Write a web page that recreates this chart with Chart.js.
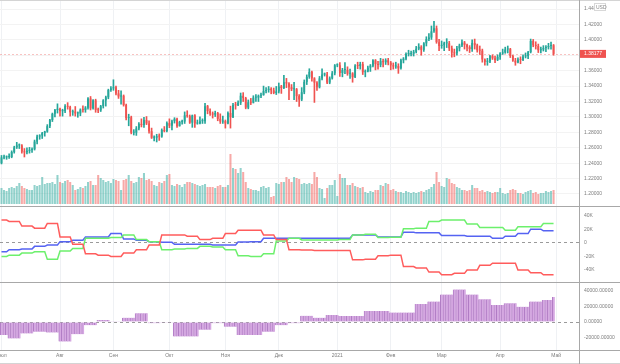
<!DOCTYPE html>
<html>
<head>
<meta charset="utf-8">
<script src="https://cdn.jsdelivr.net/npm/chart.js@4.4.1/dist/chart.umd.min.js"></script>
<style>
    body { margin: 0; background: #fff; }
    #wrap { position: relative; width: 620px; height: 364px; overflow: hidden; }
    canvas { position: absolute; left: 0; }
    .hl { position: absolute; left: 0; width: 620px; height: 1px; background: #a8a8a8; }
    .vl { position: absolute; top: 0; left: 579px; width: 1px; height: 364px; background: #a8a8a8; }
</style>
</head>
<body>
<div id="wrap">
    <canvas id="priceChart" width="620" height="206" style="top:0"></canvas>
    <canvas id="cotChart" width="620" height="75" style="top:207px"></canvas>
    <canvas id="histChart" width="620" height="81" style="top:283px"></canvas>
    <div class="hl" style="top:0;background:#d4d4d4"></div>
    <div class="hl" style="top:206px"></div>
    <div class="hl" style="top:282px"></div>
    <div class="hl" style="top:350px"></div>
    <div class="hl" style="top:363px;background:#d4d4d4"></div>
    <div class="vl"></div>
</div>
<script>
// GBP/USD daily, 1 Jul 2020 .. 30 Apr 2021 (one entry per trading day)
const opens = [
    1.2400, 1.2475, 1.2475, 1.2480, 1.2480, 1.2545, 1.2605, 1.2630, 1.2630, 1.2550,
    1.2540, 1.2560, 1.2570, 1.2580, 1.2680, 1.2745, 1.2760, 1.2790, 1.2810, 1.2880,
    1.2960, 1.3040, 1.3090, 1.3105, 1.3075, 1.3075, 1.3140, 1.3130, 1.3060, 1.3070,
    1.3045, 1.3045, 1.3095, 1.3090, 1.3120, 1.3240, 1.3110, 1.3215, 1.3090, 1.3085,
    1.3140, 1.3215, 1.3255, 1.3350, 1.3370, 1.3385, 1.3305, 1.3265, 1.3275, 1.3155,
    1.2985, 1.2995, 1.2795, 1.2795, 1.2850, 1.2910, 1.2895, 1.2960, 1.2915, 1.2815,
    1.2730, 1.2730, 1.2750, 1.2745, 1.2830, 1.2815, 1.2920, 1.2885, 1.2945, 1.2975,
    1.2880, 1.2935, 1.2940, 1.3020, 1.3010, 1.2925, 1.3020, 1.2915, 1.2915, 1.2945,
    1.2945, 1.3140, 1.3075, 1.3045, 1.3030, 1.3050, 1.2975, 1.2940, 1.2945, 1.2915,
    1.3050, 1.2995, 1.3155, 1.3150, 1.3185, 1.3275, 1.3245, 1.3120, 1.3190, 1.3185,
    1.3250, 1.3250, 1.3275, 1.3285, 1.3335, 1.3350, 1.3365, 1.3345, 1.3310, 1.3330,
    1.3395, 1.3375, 1.3450, 1.3435, 1.3385, 1.3360, 1.3360, 1.3270, 1.3225, 1.3320,
    1.3455, 1.3520, 1.3585, 1.3500, 1.3445, 1.3385, 1.3500, 1.3550, 1.3550, 1.3445,
    1.3500, 1.3565, 1.3670, 1.3670, 1.3570, 1.3610, 1.3610, 1.3560, 1.3565, 1.3515,
    1.3665, 1.3660, 1.3685, 1.3580, 1.3590, 1.3640, 1.3665, 1.3735, 1.3685, 1.3675,
    1.3725, 1.3710, 1.3735, 1.3705, 1.3670, 1.3655, 1.3660, 1.3630, 1.3735, 1.3755,
    1.3815, 1.3815, 1.3820, 1.3845, 1.3885, 1.3910, 1.3870, 1.3955, 1.4010, 1.4030,
    1.4110, 1.4150, 1.3970, 1.3920, 1.3935, 1.3955, 1.3955, 1.3890, 1.3835, 1.3825,
    1.3890, 1.3925, 1.3965, 1.3935, 1.3905, 1.3880, 1.3960, 1.3930, 1.3865, 1.3860,
    1.3745, 1.3715, 1.3720, 1.3790, 1.3760, 1.3740, 1.3780, 1.3825, 1.3835, 1.3875,
    1.3880, 1.3790, 1.3730, 1.3705, 1.3745, 1.3740, 1.3785, 1.3790, 1.3840, 1.3985,
    1.3930, 1.3920, 1.3865, 1.3875, 1.3895, 1.3905, 1.3920, 1.3930
];
const highs = [
    1.2500, 1.2505, 1.2495, 1.2520, 1.2560, 1.2620, 1.2670, 1.2650, 1.2640, 1.2590,
    1.2600, 1.2605, 1.2600, 1.2700, 1.2765, 1.2770, 1.2800, 1.2815, 1.2900, 1.2970,
    1.3050, 1.3100, 1.3170, 1.3115, 1.3100, 1.3160, 1.3185, 1.3140, 1.3090, 1.3135,
    1.3065, 1.3105, 1.3145, 1.3135, 1.3250, 1.3265, 1.3225, 1.3230, 1.3115, 1.3150,
    1.3225, 1.3270, 1.3360, 1.3395, 1.3482, 1.3400, 1.3345, 1.3340, 1.3285, 1.3165,
    1.3035, 1.3010, 1.2835, 1.2875, 1.2925, 1.2975, 1.2995, 1.3005, 1.2950, 1.2855,
    1.2755, 1.2775, 1.2780, 1.2845, 1.2875, 1.2935, 1.2975, 1.2960, 1.2990, 1.2985,
    1.2945, 1.2960, 1.3065, 1.3080, 1.3025, 1.3025, 1.3030, 1.2960, 1.3000, 1.2975,
    1.3175, 1.3150, 1.3105, 1.3065, 1.3075, 1.3060, 1.3040, 1.3010, 1.2960, 1.3065,
    1.3140, 1.3175, 1.3190, 1.3210, 1.3310, 1.3315, 1.3255, 1.3220, 1.3240, 1.3275,
    1.3290, 1.3285, 1.3310, 1.3400, 1.3380, 1.3395, 1.3380, 1.3375, 1.3395, 1.3440,
    1.3410, 1.3540, 1.3500, 1.3445, 1.3420, 1.3450, 1.3370, 1.3290, 1.3380, 1.3480,
    1.3545, 1.3625, 1.3595, 1.3510, 1.3460, 1.3525, 1.3625, 1.3570, 1.3580, 1.3520,
    1.3590, 1.3680, 1.3690, 1.3705, 1.3630, 1.3705, 1.3650, 1.3620, 1.3575, 1.3680,
    1.3710, 1.3710, 1.3710, 1.3610, 1.3660, 1.3680, 1.3745, 1.3745, 1.3720, 1.3760,
    1.3750, 1.3755, 1.3760, 1.3720, 1.3700, 1.3710, 1.3690, 1.3750, 1.3770, 1.3830,
    1.3865, 1.3855, 1.3865, 1.3915, 1.3950, 1.3925, 1.3965, 1.4040, 1.4080, 1.4180,
    1.4241, 1.4180, 1.4005, 1.3985, 1.3970, 1.4015, 1.3980, 1.3920, 1.3880, 1.3915,
    1.3945, 1.4000, 1.3980, 1.3945, 1.3925, 1.4000, 1.4010, 1.3945, 1.3920, 1.3880,
    1.3755, 1.3760, 1.3800, 1.3805, 1.3790, 1.3805, 1.3835, 1.3880, 1.3905, 1.3920,
    1.3890, 1.3800, 1.3760, 1.3765, 1.3780, 1.3805, 1.3830, 1.3850, 1.4010, 1.4005,
    1.3975, 1.3945, 1.3905, 1.3925, 1.3925, 1.3955, 1.3970, 1.3940
];
const lows = [
    1.2390, 1.2455, 1.2450, 1.2460, 1.2470, 1.2530, 1.2590, 1.2590, 1.2530, 1.2480,
    1.2520, 1.2530, 1.2540, 1.2570, 1.2650, 1.2710, 1.2720, 1.2750, 1.2800, 1.2860,
    1.2940, 1.3000, 1.3050, 1.3010, 1.3010, 1.3055, 1.3100, 1.3010, 1.3020, 1.3010,
    1.2995, 1.3015, 1.3060, 1.3060, 1.3100, 1.3090, 1.3100, 1.3060, 1.3055, 1.3070,
    1.3115, 1.3140, 1.3235, 1.3330, 1.3345, 1.3285, 1.3240, 1.3165, 1.3140, 1.2960,
    1.2885, 1.2780, 1.2765, 1.2760, 1.2830, 1.2870, 1.2865, 1.2900, 1.2790, 1.2720,
    1.2690, 1.2675, 1.2695, 1.2735, 1.2805, 1.2805, 1.2860, 1.2830, 1.2920, 1.2865,
    1.2880, 1.2905, 1.2915, 1.2995, 1.2915, 1.2865, 1.2865, 1.2905, 1.2910, 1.2915,
    1.2915, 1.3040, 1.3020, 1.2985, 1.3005, 1.2950, 1.2915, 1.2915, 1.2855, 1.2910,
    1.2855, 1.2990, 1.3100, 1.3145, 1.3160, 1.3200, 1.3105, 1.3105, 1.3160, 1.3180,
    1.3200, 1.3200, 1.3250, 1.3280, 1.3310, 1.3320, 1.3300, 1.3300, 1.3290, 1.3310,
    1.3305, 1.3365, 1.3380, 1.3225, 1.3340, 1.3225, 1.3200, 1.3135, 1.3210, 1.3300,
    1.3420, 1.3500, 1.3465, 1.3188, 1.3345, 1.3375, 1.3480, 1.3530, 1.3430, 1.3430,
    1.3490, 1.3545, 1.3650, 1.3525, 1.3520, 1.3560, 1.3540, 1.3500, 1.3450, 1.3510,
    1.3625, 1.3620, 1.3550, 1.3520, 1.3585, 1.3590, 1.3650, 1.3610, 1.3620, 1.3650,
    1.3650, 1.3680, 1.3675, 1.3610, 1.3620, 1.3630, 1.3565, 1.3620, 1.3700, 1.3740,
    1.3790, 1.3790, 1.3790, 1.3830, 1.3870, 1.3800, 1.3850, 1.3920, 1.3990, 1.4005,
    1.4095, 1.3955, 1.3860, 1.3890, 1.3860, 1.3900, 1.3860, 1.3775, 1.3780, 1.3800,
    1.3855, 1.3910, 1.3880, 1.3855, 1.3835, 1.3850, 1.3880, 1.3840, 1.3810, 1.3710,
    1.3670, 1.3670, 1.3705, 1.3745, 1.3705, 1.3730, 1.3745, 1.3810, 1.3825, 1.3830,
    1.3770, 1.3720, 1.3670, 1.3700, 1.3690, 1.3730, 1.3765, 1.3755, 1.3830, 1.3910,
    1.3880, 1.3835, 1.3830, 1.3855, 1.3845, 1.3880, 1.3880, 1.3800
];
const closes = [
    1.2475, 1.2475, 1.2480, 1.2480, 1.2545, 1.2605, 1.2630, 1.2630, 1.2550, 1.2540,
    1.2560, 1.2570, 1.2580, 1.2680, 1.2745, 1.2760, 1.2790, 1.2810, 1.2880, 1.2960,
    1.3040, 1.3090, 1.3105, 1.3075, 1.3075, 1.3140, 1.3130, 1.3060, 1.3070, 1.3045,
    1.3045, 1.3095, 1.3090, 1.3120, 1.3240, 1.3110, 1.3215, 1.3090, 1.3085, 1.3140,
    1.3215, 1.3255, 1.3350, 1.3370, 1.3385, 1.3305, 1.3265, 1.3275, 1.3155, 1.2985,
    1.2995, 1.2795, 1.2795, 1.2850, 1.2910, 1.2895, 1.2960, 1.2915, 1.2815, 1.2730,
    1.2730, 1.2750, 1.2745, 1.2830, 1.2815, 1.2920, 1.2885, 1.2945, 1.2975, 1.2880,
    1.2935, 1.2940, 1.3020, 1.3010, 1.2925, 1.3020, 1.2915, 1.2915, 1.2945, 1.2945,
    1.3140, 1.3075, 1.3045, 1.3030, 1.3050, 1.2975, 1.2940, 1.2945, 1.2915, 1.3050,
    1.2995, 1.3155, 1.3150, 1.3185, 1.3275, 1.3245, 1.3120, 1.3190, 1.3185, 1.3250,
    1.3250, 1.3275, 1.3285, 1.3335, 1.3350, 1.3365, 1.3345, 1.3310, 1.3330, 1.3395,
    1.3375, 1.3450, 1.3435, 1.3385, 1.3360, 1.3360, 1.3270, 1.3225, 1.3320, 1.3455,
    1.3520, 1.3585, 1.3500, 1.3445, 1.3385, 1.3500, 1.3550, 1.3550, 1.3445, 1.3500,
    1.3565, 1.3670, 1.3670, 1.3570, 1.3610, 1.3610, 1.3560, 1.3565, 1.3515, 1.3665,
    1.3660, 1.3685, 1.3580, 1.3590, 1.3640, 1.3665, 1.3735, 1.3685, 1.3675, 1.3725,
    1.3710, 1.3735, 1.3705, 1.3670, 1.3655, 1.3660, 1.3630, 1.3735, 1.3755, 1.3815,
    1.3815, 1.3820, 1.3845, 1.3885, 1.3910, 1.3870, 1.3955, 1.4010, 1.4030, 1.4110,
    1.4150, 1.3970, 1.3920, 1.3935, 1.3955, 1.3955, 1.3890, 1.3835, 1.3825, 1.3890,
    1.3925, 1.3965, 1.3935, 1.3905, 1.3880, 1.3960, 1.3930, 1.3865, 1.3860, 1.3745,
    1.3715, 1.3720, 1.3790, 1.3760, 1.3740, 1.3780, 1.3825, 1.3835, 1.3875, 1.3880,
    1.3790, 1.3730, 1.3705, 1.3745, 1.3740, 1.3785, 1.3790, 1.3840, 1.3985, 1.3930,
    1.3920, 1.3865, 1.3875, 1.3895, 1.3905, 1.3920, 1.3930, 1.38177
];
const volumes = [
    80, 70, 65, 80, 85, 80, 90, 105, 90, 80,
    75, 70, 70, 95, 90, 95, 135, 100, 105, 105,
    110, 100, 145, 110, 105, 115, 120, 110, 95, 70,
    75, 85, 80, 90, 110, 115, 95, 95, 145, 130,
    120, 110, 115, 105, 125, 120, 115, 70, 120, 125,
    145, 115, 105, 110, 135, 130, 155, 120, 125, 115,
    95, 90, 110, 105, 115, 145, 150, 95, 90, 100,
    95, 85, 100, 110, 110, 105, 100, 95, 90, 95,
    100, 85, 85, 85, 80, 90, 95, 85, 85, 95,
    250, 180, 175, 155, 180, 160, 110, 80, 75, 70,
    70, 65, 85, 90, 80, 85, 35, 40, 105, 100,
    110, 110, 135, 125, 110, 135, 130, 125, 100, 105,
    100, 105, 100, 160, 135, 80, 75, 30, 80, 95,
    95, 120, 40, 150, 130, 130, 95, 95, 105, 90,
    85, 80, 85, 60, 55, 65, 60, 70, 70, 95,
    90, 105, 100, 70, 75, 65, 60, 60, 55, 65,
    60, 55, 60, 55, 60, 65, 60, 70, 75, 85,
    100, 160, 110, 90, 85, 130, 125, 105, 100, 85,
    80, 70, 70, 65, 70, 95, 80, 80, 65, 70,
    60, 65, 60, 55, 60, 60, 80, 55, 50, 55,
    70, 75, 70, 55, 55, 50, 60, 65, 70, 55,
    60, 50, 55, 55, 65, 60, 65, 70
];

// COT report periods (first trading-day index of each period) and values
const cotStarts = [0, 3, 8, 13, 18, 23, 28, 33, 38, 43, 48, 53, 58, 63, 68, 73, 78, 83, 88, 93,
    98, 103, 108, 113, 118, 123, 128, 133, 138, 143, 148, 153, 158, 163, 168, 173, 178, 183,
    188, 193, 198, 203, 208, 213, 217];
const cotRed = [34000, 32000, 25000, 22000, 29000, 9000, -2000, -16000, -18000, -20000,
    -15000, -10000, -3000, 12000, 12000, 10000, 5000, 7000, 14000, 19000,
    19000, 12000, 5000, -10000, -10500, -11000, -11000, -11000, -25000, -24000,
    -19000, -18000, -35000, -37000, -43000, -47000, -45000, -40000, -33000, -30000,
    -30000, -40000, -44000, -47000, -47000];
const cotGreen = [-20000, -18000, -15000, -13000, -24000, -12000, -8000, 7000, 7000, 8000,
    12000, 5000, 2000, -10000, -9000, -8000, -5000, -6000, -10000, -19000,
    -20000, -16000, 3000, 7000, 4500, 4500, 4500, 5000, 12000, 13000,
    8000, 8500, 21000, 22000, 32000, 34000, 34000, 28000, 23000, 23000,
    19000, 24000, 24000, 29000, 29000];
const cotBlue = [-13000, -10000, -9000, -5000, -3000, 2000, 4000, 9000, 9000, 14000,
    6000, 4000, 2000, 1000, -2000, -2000, -2000, -3000, -3000, 1500,
    2000, 7000, 7000, 7000, 7000, 7000, 7000, 7000, 12000, 12000,
    9000, 9000, 16000, 15000, 15000, 11000, 11000, 10000, 10000, 7000,
    10000, 14000, 20500, 18000, 18000];
const cotHist = [-16500, -21000, -14500, -12500, -13500, -25000, -15500, -4000, 2500, 1000,
    5500, 11000, -1500, -1000, -18500, -18500, -10000, -1500, -6000, -16500,
    -16500, -12500, -4000, -1500, 8000, 5500, 9000, 7500, 7500, 14000,
    14000, 12000, 12000, 23000, 26000, 35000, 41500, 35000, 29000, 21500,
    24000, 19500, 26000, 28000, 32000];

const monthStarts = [0, 23, 44, 66, 88, 109, 132, 153, 173, 196, 218];
const monthLabels = ['Июл', 'Авг', 'Сен', 'Окт', 'Ноя', 'Дек', '2021', 'Фев', 'Мар', 'Апр', 'Май'];
const priceTicks = [1.20, 1.22, 1.24, 1.26, 1.28, 1.30, 1.32, 1.34, 1.36, 1.38, 1.40, 1.42, 1.44];
const cotTicks = [-40000, -20000, 0, 20000, 40000];
const histTicks = [-20000, 0, 20000, 40000];

Chart.defaults.font.family = "'Liberation Sans', Arial, sans-serif";
Chart.defaults.font.size = 5;
Chart.defaults.color = '#7d7d7d';

const UP = '#26a69a';
const DOWN = '#ef5350';
const isUp = (i) => closes[i] >= opens[i];
const candleColors = closes.map((c, i) => isUp(i) ? UP : DOWN);
const volumeColors = closes.map((c, i) => isUp(i) ? 'rgba(38, 166, 154, 0.5)' : 'rgba(239, 83, 80, 0.5)');

const blockOf = (i) => {
    let b = 0;
    while (b + 1 < cotStarts.length && cotStarts[b + 1] <= i) b++;
    return b;
};
const daily = (arr) => closes.map((c, i) => ({x: i, y: arr[blockOf(i)]}));

const fitRightAxis = (s) => {
    s.width = 41;
    s.paddingTop = 0;
    s.paddingBottom = 0;
};

const xScale = (showLabels) => ({
    type: 'linear',
    min: -0.59,
    max: 227,
    offset: false,
    afterBuildTicks: (s) => { s.ticks = monthStarts.map((v) => ({value: v})); },
    afterFit: (s) => {
        s.paddingLeft = 0;
        s.paddingRight = 0;
        s.height = showLabels ? 14 : 0;
    },
    grid: {color: '#eff1f4', drawTicks: false, offset: false},
    border: {display: false},
    ticks: {
        display: showLabels,
        autoSkip: false,
        maxRotation: 0,
        padding: 3,
        callback: (v, i) => monthLabels[i]
    }
});

const zeroOnly = (ctx) => ctx.tick && ctx.tick.value === 0 ? '#9a9a9a' : 'rgba(0,0,0,0)';

const lastPrice = {
    id: 'lastPrice',
    beforeDatasetsDraw(chart) {
        const {ctx, chartArea} = chart;
        const y = Math.round(chart.scales.yP.getPixelForValue(closes[closes.length - 1])) + 0.5;
        ctx.save();
        ctx.strokeStyle = 'rgba(239, 83, 80, 0.35)';
        ctx.lineWidth = 1;
        ctx.setLineDash([2, 2]);
        ctx.beginPath();
        ctx.moveTo(chartArea.left, y);
        ctx.lineTo(chartArea.right, y);
        ctx.stroke();
        ctx.restore();
    },
    afterDraw(chart) {
        const {ctx, chartArea} = chart;
        const last = closes[closes.length - 1];
        const y = chart.scales.yP.getPixelForValue(last);
        ctx.save();
        ctx.fillStyle = DOWN;
        ctx.fillRect(chartArea.right + 1, y - 4, 26, 8);
        ctx.fillStyle = '#fff';
        ctx.font = "5px 'Liberation Sans', Arial, sans-serif";
        ctx.textBaseline = 'middle';
        ctx.fillText(last.toFixed(5), chartArea.right + 5, y);
        ctx.fillStyle = '#fff';
        ctx.fillRect(594, 3, 12, 8);
        ctx.strokeStyle = '#d8d8d8';
        ctx.strokeRect(594.5, 3.5, 11, 7);
        ctx.fillStyle = '#888';
        ctx.fillText('USD', 596, 7.5);
        ctx.restore();
    }
};

const common = {
    responsive: false,
    animation: false,
    events: [],
    devicePixelRatio: 1,
    layout: {padding: 0},
    plugins: {legend: {display: false}, tooltip: {enabled: false}}
};

new Chart(document.getElementById('priceChart'), {
    type: 'bar',
    data: {
        datasets: [{
            label: 'Volume',
            yAxisID: 'yV',
            data: volumes.map((v, i) => ({x: i, y: v})),
            backgroundColor: volumeColors,
            barPercentage: 0.8,
            categoryPercentage: 1,
            grouped: false,
            order: 3
        }, {
            label: 'Wicks',
            yAxisID: 'yP',
            data: highs.map((h, i) => ({x: i, y: [lows[i], h]})),
            backgroundColor: candleColors,
            barThickness: 1,
            grouped: false,
            order: 2
        }, {
            label: 'GBPUSD',
            yAxisID: 'yP',
            data: closes.map((c, i) => ({x: i, y: [opens[i], c]})),
            backgroundColor: candleColors,
            barPercentage: 0.72,
            categoryPercentage: 1,
            minBarLength: 1,
            grouped: false,
            order: 1
        }]
    },
    options: {
        ...common,
        scales: {
            x: xScale(false),
            yP: {
                position: 'right',
                min: 1.18443,
                max: 1.45168,
                afterBuildTicks: (s) => { s.ticks = priceTicks.map((v) => ({value: v})); },
                afterFit: fitRightAxis,
                grid: {color: '#f3f3f3', drawTicks: false},
                border: {display: false},
                ticks: {padding: 5, callback: (v) => v.toFixed(5)}
            },
            yV: {
                position: 'right',
                display: false,
                min: -10,
                max: 1020
            }
        }
    },
    plugins: [lastPrice]
});

new Chart(document.getElementById('cotChart'), {
    type: 'line',
    data: {
        datasets: [
            {label: 'Red', data: daily(cotRed), borderColor: '#ff5c5c'},
            {label: 'Green', data: daily(cotGreen), borderColor: '#6cf06c'},
            {label: 'Blue', data: daily(cotBlue), borderColor: '#5563f2'}
        ].map((d) => ({...d, borderWidth: 1.5, pointRadius: 0, tension: 0, fill: false}))
    },
    options: {
        ...common,
        scales: {
            x: xScale(false),
            y: {
                position: 'right',
                min: -57778,
                max: 53333,
                afterBuildTicks: (s) => { s.ticks = cotTicks.map((v) => ({value: v})); },
                afterFit: fitRightAxis,
                grid: {color: zeroOnly, drawTicks: false},
                border: {display: false, dash: [3, 3]},
                ticks: {padding: 5, callback: (v) => v === 0 ? '0' : (v / 1000) + 'K'}
            }
        }
    }
});

new Chart(document.getElementById('histChart'), {
    type: 'bar',
    data: {
        datasets: [{
            label: 'Net',
            data: daily(cotHist),
            backgroundColor: '#d6a9e2',
            borderColor: '#b07cc4',
            borderWidth: {left: 1},
            borderSkipped: false,
            barPercentage: 1,
            categoryPercentage: 1
        }]
    },
    options: {
        ...common,
        scales: {
            x: xScale(true),
            y: {
                position: 'right',
                min: -35669,
                max: 49682,
                afterBuildTicks: (s) => { s.ticks = histTicks.map((v) => ({value: v})); },
                afterFit: fitRightAxis,
                grid: {color: zeroOnly, drawTicks: false},
                border: {display: false, dash: [3, 3]},
                ticks: {padding: 5, callback: (v) => v.toFixed(5)}
            }
        }
    }
});
</script>
</body>
</html>
